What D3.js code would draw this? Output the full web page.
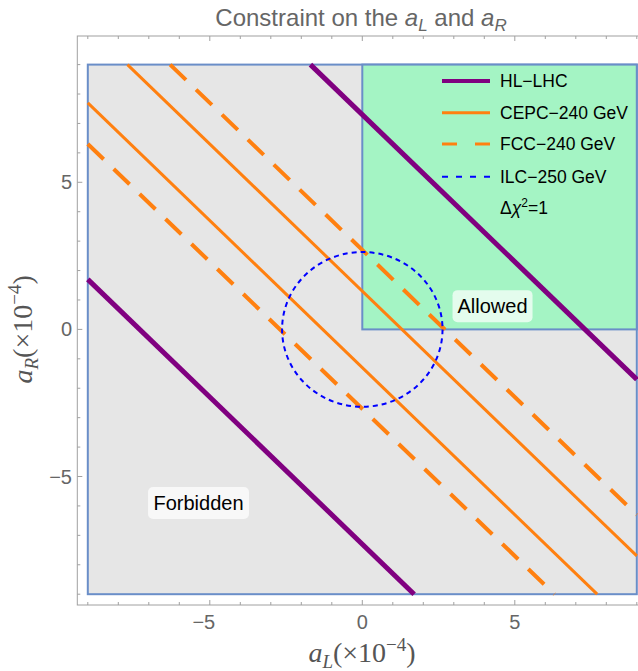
<!DOCTYPE html>
<html>
<head>
<meta charset="utf-8">
<script src="https://cdn.jsdelivr.net/npm/d3@7"></script>
<style>
body { margin: 0; background: #fff; }
svg { font-family: "Liberation Sans", Arial, sans-serif; }
</style>
</head>
<body>
<div id="chart"></div>
<script>
// constraint lines: a_L + a_R = c
var hlSums = [7.3, -7.3];
var cepcSums = [1.3, -1.3];
var fccSums = [2.7, -2.7];
var ilcRadius = 2.63;
var boxRange = [-9, 9];
var allowedBox = [0, 9];
var majorTicks = [-5, 0, 5];
var minorTicks = d3.range(-9, 10, 1);
var legendNames = ["HL\u2212LHC", "CEPC\u2212240 GeV", "FCC\u2212240 GeV", "ILC\u2212250 GeV"];

var W = 638, H = 671;
var svg = d3.select("#chart").append("svg")
	.attr("width", W)
	.attr("height", H);

var x = d3.scaleLinear().domain([-9, 9]).range([87.8, 636.8]);
var y = d3.scaleLinear().domain([-9, 9]).range([594.2, 64.6]);

var frame = {left: 77.3, top: 36, right: 648, bottom: 605};

// frame
svg.append("rect")
	.attr("x", frame.left).attr("y", frame.top)
	.attr("width", frame.right - frame.left)
	.attr("height", frame.bottom - frame.top)
	.style("fill", "none")
	.style("stroke", "#a0a0a0")
	.style("stroke-width", 1);

// ticks (pointing inward)
minorTicks.forEach(function(t){
	var len = majorTicks.indexOf(t) >= 0 ? 5 : 3;
	svg.append("line").attr("x1", x(t)).attr("x2", x(t))
		.attr("y1", frame.bottom).attr("y2", frame.bottom - len)
		.style("stroke", "#a0a0a0");
	svg.append("line").attr("x1", x(t)).attr("x2", x(t))
		.attr("y1", frame.top).attr("y2", frame.top + len)
		.style("stroke", "#a0a0a0");
	svg.append("line").attr("x1", frame.left).attr("x2", frame.left + len)
		.attr("y1", y(t)).attr("y2", y(t))
		.style("stroke", "#a0a0a0");
});

svg.selectAll(".xlab")
	.data(majorTicks)
	.enter()
	.append("text")
	.attr("x", function(d){ return x(d) - (d < 0 ? 6 : 0); })
	.attr("y", 629)
	.attr("text-anchor", "middle")
	.style("font-size", "20px")
	.style("fill", "#666")
	.text(function(d){ return d < 0 ? "\u2212" + (-d) : d; });

svg.selectAll(".ylab")
	.data(majorTicks)
	.enter()
	.append("text")
	.attr("x", 72)
	.attr("y", function(d){ return y(d) + 7; })
	.attr("text-anchor", "end")
	.style("font-size", "20px")
	.style("fill", "#666")
	.text(function(d){ return d < 0 ? "\u2212" + (-d) : d; });

// regions
svg.append("rect")
	.attr("x", x(boxRange[0])).attr("y", y(boxRange[1]))
	.attr("width", x(boxRange[1]) - x(boxRange[0]))
	.attr("height", y(boxRange[0]) - y(boxRange[1]))
	.style("fill", "#e6e6e6")
	.style("stroke", "#6a8ec8")
	.style("stroke-width", 2);

svg.append("rect")
	.attr("x", x(allowedBox[0])).attr("y", y(allowedBox[1]))
	.attr("width", x(allowedBox[1]) - x(allowedBox[0]))
	.attr("height", y(allowedBox[0]) - y(allowedBox[1]))
	.style("fill", "#a4f4c4")
	.style("stroke", "#6a8ec8")
	.style("stroke-width", 2);

// a_L + a_R = c clipped to the box
function sumLine(c) {
	var lo = Math.max(-9, c - 9), hi = Math.min(9, c + 9);
	return [[lo, c - lo], [hi, c - hi]];
}
var line = d3.line()
	.x(function(d){ return x(d[0]); })
	.y(function(d){ return y(d[1]); });

svg.selectAll(".cepc")
	.data(cepcSums)
	.enter()
	.append("path")
	.attr("d", function(d){ return line(sumLine(d)); })
	.style("fill", "none")
	.style("stroke", "#ff8010")
	.style("stroke-width", 3);

svg.selectAll(".fcc")
	.data(fccSums)
	.enter()
	.append("path")
	.attr("d", function(d){ return line(sumLine(d)); })
	.style("fill", "none")
	.style("stroke", "#ff8010")
	.style("stroke-width", 4)
	.style("stroke-dasharray", "22,14");

svg.selectAll(".hl")
	.data(hlSums)
	.enter()
	.append("path")
	.attr("d", function(d){ return line(sumLine(d)); })
	.style("fill", "none")
	.style("stroke", "#800080")
	.style("stroke-width", 5);

svg.append("ellipse")
	.attr("cx", x(0)).attr("cy", y(0))
	.attr("rx", x(ilcRadius) - x(0))
	.attr("ry", y(0) - y(ilcRadius))
	.style("fill", "none")
	.style("stroke", "#0000ff")
	.style("stroke-width", 2)
	.style("stroke-dasharray", "5,4");

// region labels
function boxLabel(txt, cx, cy, w) {
	svg.append("rect")
		.attr("x", cx - w / 2).attr("y", cy - 16)
		.attr("width", w).attr("height", 32)
		.attr("rx", 5)
		.style("fill", "rgba(255,255,255,0.7)");
	svg.append("text")
		.attr("x", cx).attr("y", cy + 7)
		.attr("text-anchor", "middle")
		.style("font-size", "20px")
		.style("fill", "#000")
		.text(txt);
}
boxLabel("Allowed", x(4.27), y(0.79), 80);
boxLabel("Forbidden", x(-5.37), y(-5.9), 101);

// legend
var legY = [81, 112.7, 144, 176.7];
var legStyle = [
	{c: "#800080", w: 4, dash: null},
	{c: "#ff8010", w: 3, dash: null},
	{c: "#ff8010", w: 3, dash: "15,18"},
	{c: "#0000ff", w: 2, dash: "6,8"}
];
legendNames.forEach(function(n, i){
	svg.append("line")
		.attr("x1", 442).attr("x2", 490)
		.attr("y1", legY[i]).attr("y2", legY[i])
		.style("stroke", legStyle[i].c)
		.style("stroke-width", legStyle[i].w)
		.style("stroke-dasharray", legStyle[i].dash);
	svg.append("text")
		.attr("x", 500).attr("y", legY[i] + 6)
		.style("font-size", "17.5px")
		.style("fill", "#000")
		.text(n);
});
var chi = svg.append("text")
	.attr("x", 500).attr("y", 214)
	.style("font-size", "17.5px")
	.style("fill", "#000");
chi.append("tspan").text("\u0394");
chi.append("tspan").style("font-style", "italic").text("\u03c7");
chi.append("tspan").attr("dy", -7).style("font-size", "12px").text("2");
chi.append("tspan").attr("dy", 7).text("=1");

// title
var title = svg.append("text")
	.attr("x", 361).attr("y", 26)
	.attr("text-anchor", "middle")
	.style("font-size", "24px")
	.style("fill", "#666");
title.append("tspan").text("Constraint on the ");
title.append("tspan").style("font-style", "italic").text("a");
title.append("tspan").attr("dy", 5).style("font-size", "17px").style("font-style", "italic").text("L");
title.append("tspan").attr("dy", -5).text(" and ");
title.append("tspan").style("font-style", "italic").text("a");
title.append("tspan").attr("dy", 5).style("font-size", "17px").style("font-style", "italic").text("R");

// axis labels
var xl = svg.append("text")
	.attr("x", 362).attr("y", 662)
	.attr("text-anchor", "middle")
	.style("font-family", "'Liberation Serif', 'Times New Roman', serif")
	.style("font-size", "28px")
	.style("fill", "#555");
xl.append("tspan").style("font-style", "italic").text("a");
xl.append("tspan").attr("dy", 6).style("font-size", "19px").style("font-style", "italic").text("L");
xl.append("tspan").attr("dy", -6).text("(\u00d710");
xl.append("tspan").attr("dy", -11).style("font-size", "19px").text("\u22124");
xl.append("tspan").attr("dy", 11).text(")");

var yl = svg.append("text")
	.attr("transform", "translate(32," + y(0) + ") rotate(-90)")
	.attr("text-anchor", "middle")
	.style("font-family", "'Liberation Serif', 'Times New Roman', serif")
	.style("font-size", "28px")
	.style("fill", "#555");
yl.append("tspan").style("font-style", "italic").text("a");
yl.append("tspan").attr("dy", 6).style("font-size", "19px").style("font-style", "italic").text("R");
yl.append("tspan").attr("dy", -6).text("(\u00d710");
yl.append("tspan").attr("dy", -11).style("font-size", "19px").text("\u22124");
yl.append("tspan").attr("dy", 11).text(")");
</script>
</body>
</html>
